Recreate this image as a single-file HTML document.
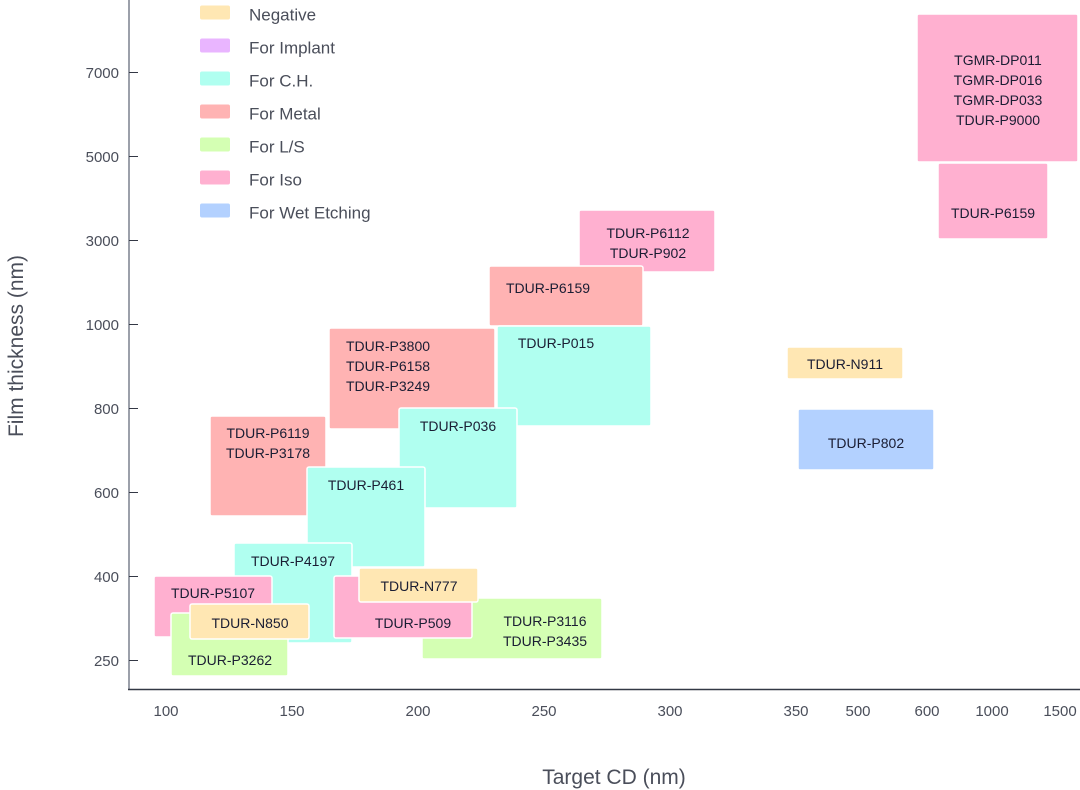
<!DOCTYPE html>
<html><head><meta charset="utf-8"><style>
html,body{margin:0;padding:0;background:#fff;}
svg{display:block;}
text{font-family:"Liberation Sans",sans-serif;}
.tk{font-size:15px;fill:#4a4e5a;}
.lg{font-size:17px;fill:#4a4e5a;}
.tt{font-size:21px;fill:#4a4e5a;}
.bx{font-size:14px;fill:#1a1d33;text-anchor:middle;}
.b{stroke:#fff;stroke-width:1.5;}
</style></head><body>
<svg width="1080" height="790" viewBox="0 0 1080 790" xmlns="http://www.w3.org/2000/svg">
<!-- legend -->
<g>
<rect x="200" y="5.5" width="30" height="14" rx="2" fill="#ffe7b3"/><text class="lg" x="249" y="20.5">Negative</text>
<rect x="200" y="38.5" width="30" height="14" rx="2" fill="#e9b5ff"/><text class="lg" x="249" y="53.5">For Implant</text>
<rect x="200" y="71.5" width="30" height="14" rx="2" fill="#b0fff0"/><text class="lg" x="249" y="86.5">For C.H.</text>
<rect x="200" y="104.5" width="30" height="14" rx="2" fill="#ffb3b3"/><text class="lg" x="249" y="119.5">For Metal</text>
<rect x="200" y="137.5" width="30" height="14" rx="2" fill="#d4ffb3"/><text class="lg" x="249" y="152.5">For L/S</text>
<rect x="200" y="170.5" width="30" height="14" rx="2" fill="#ffb0d0"/><text class="lg" x="249" y="185.5">For Iso</text>
<rect x="200" y="203.5" width="30" height="14" rx="2" fill="#b3d1ff"/><text class="lg" x="249" y="218.5">For Wet Etching</text>
</g>
<!-- boxes -->
<g>
<rect class="b" x="579" y="210" width="136" height="62" rx="2" fill="#ffb0d0"/>
<text class="bx" x="648" y="238">TDUR-P6112</text><text class="bx" x="648" y="258">TDUR-P902</text>

<rect class="b" x="489" y="266" width="154" height="60" rx="2" fill="#ffb3b3"/>
<text class="bx" x="548" y="293">TDUR-P6159</text>

<rect class="b" x="329" y="328" width="166" height="101" rx="2" fill="#ffb3b3"/>
<text class="bx" x="388" y="351">TDUR-P3800</text><text class="bx" x="388" y="371">TDUR-P6158</text><text class="bx" x="388" y="391">TDUR-P3249</text>

<rect class="b" x="497" y="326" width="154" height="100" rx="2" fill="#b0fff0"/>
<text class="bx" x="556" y="348">TDUR-P015</text>

<rect class="b" x="422" y="598" width="180" height="61" rx="2" fill="#d4ffb3"/>
<text class="bx" x="545" y="626">TDUR-P3116</text><text class="bx" x="545" y="646">TDUR-P3435</text>

<rect class="b" x="210" y="416" width="116" height="100" rx="2" fill="#ffb3b3"/>
<text class="bx" x="268" y="438">TDUR-P6119</text><text class="bx" x="268" y="458">TDUR-P3178</text>

<rect class="b" x="399" y="408" width="118" height="100" rx="2" fill="#b0fff0"/>
<text class="bx" x="458" y="431">TDUR-P036</text>

<rect class="b" x="307" y="467" width="118" height="100" rx="2" fill="#b0fff0"/>
<text class="bx" x="366" y="490">TDUR-P461</text>

<rect class="b" x="234" y="543" width="118" height="100" rx="2" fill="#b0fff0"/>
<text class="bx" x="293" y="566">TDUR-P4197</text>

<rect class="b" x="154" y="576" width="118" height="61" rx="2" fill="#ffb0d0"/>
<text class="bx" x="213" y="598">TDUR-P5107</text>

<rect class="b" x="171" y="613" width="117" height="63" rx="2" fill="#d4ffb3"/>
<text class="bx" x="230" y="665">TDUR-P3262</text>

<rect class="b" x="190" y="604" width="119" height="35" rx="2" fill="#ffe7b3"/>
<text class="bx" x="250" y="628">TDUR-N850</text>

<rect class="b" x="334" y="576" width="138" height="62" rx="2" fill="#ffb0d0"/>
<text class="bx" x="413" y="628">TDUR-P509</text>

<rect class="b" x="359" y="568" width="119" height="34" rx="2" fill="#ffe7b3"/>
<text class="bx" x="419" y="591">TDUR-N777</text>

<rect class="b" x="787" y="347" width="116" height="32" rx="2" fill="#ffe7b3"/>
<text class="bx" x="845" y="369">TDUR-N911</text>

<rect class="b" x="798" y="409" width="136" height="61" rx="2" fill="#b3d1ff"/>
<text class="bx" x="866" y="448">TDUR-P802</text>

<rect class="b" x="917" y="14" width="161" height="148" rx="2" fill="#ffb0d0"/>
<text class="bx" x="998" y="65">TGMR-DP011</text><text class="bx" x="998" y="85">TGMR-DP016</text><text class="bx" x="998" y="105">TGMR-DP033</text><text class="bx" x="998" y="125">TDUR-P9000</text>

<rect class="b" x="938" y="163" width="110" height="76" rx="2" fill="#ffb0d0"/>
<text class="bx" x="993" y="218">TDUR-P6159</text>
</g>
<!-- axes -->
<line x1="129" y1="0" x2="129" y2="690" stroke="#9ca0aa" stroke-width="2"/>
<line x1="128" y1="689.5" x2="1080" y2="689.5" stroke="#333845" stroke-width="1.5"/>
<g stroke="#333845" stroke-width="1">
<line x1="129" y1="72.5" x2="138" y2="72.5"/>
<line x1="129" y1="156.5" x2="138" y2="156.5"/>
<line x1="129" y1="240.5" x2="138" y2="240.5"/>
<line x1="129" y1="324.5" x2="138" y2="324.5"/>
<line x1="129" y1="408.5" x2="138" y2="408.5"/>
<line x1="129" y1="492.5" x2="138" y2="492.5"/>
<line x1="129" y1="576.5" x2="138" y2="576.5"/>
<line x1="129" y1="660.5" x2="138" y2="660.5"/>
</g>
<g class="tk" text-anchor="end">
<text x="119" y="78">7000</text>
<text x="119" y="162">5000</text>
<text x="119" y="246">3000</text>
<text x="119" y="330">1000</text>
<text x="119" y="414">800</text>
<text x="119" y="498">600</text>
<text x="119" y="582">400</text>
<text x="119" y="666">250</text>
</g>
<g class="tk" text-anchor="middle">
<text x="166" y="716">100</text>
<text x="292" y="716">150</text>
<text x="418" y="716">200</text>
<text x="544" y="716">250</text>
<text x="670" y="716">300</text>
<text x="796" y="716">350</text>
<text x="858" y="716">500</text>
<text x="927" y="716">600</text>
<text x="992" y="716">1000</text>
<text x="1060" y="716">1500</text>
</g>
<text class="tt" text-anchor="middle" transform="translate(23,346) rotate(-90)">Film thickness (nm)</text>
<text class="tt" text-anchor="middle" x="614" y="784">Target CD (nm)</text>
</svg>
</body></html>
